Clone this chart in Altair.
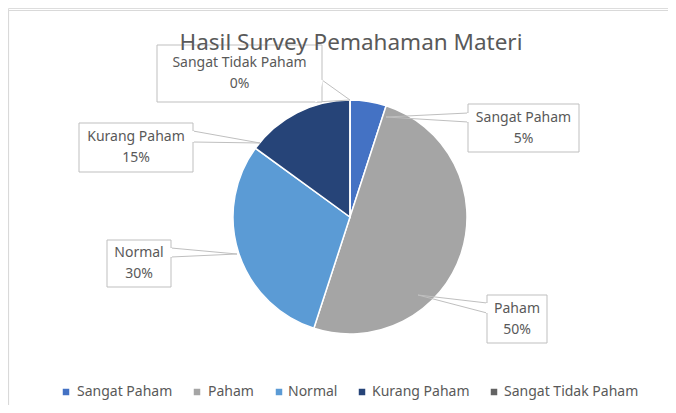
import altair as alt
import pandas as pd

# ---- data ----
categories = ["Sangat Paham", "Paham", "Normal", "Kurang Paham", "Sangat Tidak Paham"]
values = [5, 50, 30, 15, 0]
percent_labels = ["5%", "50%", "30%", "15%", "0%"]
title_text = "Hasil Survey Pemahaman Materi"

# ---- style ----
colors = ["#4472C4", "#A5A5A5", "#5B9BD5", "#264478", "#636363"]
text_color = "#595959"
box_color = "#BFBFBF"
FONT = "Noto Sans"

# ---- layout (pixels in chart space) ----
W, H = 660, 397
CX, CY, R = 342, 209, 117
box_x0 = [460, 479, 99, 71, 149]
box_x1 = [571, 539, 163, 185, 314]
box_y0 = [96, 287, 232, 115, 37]
box_y1 = [144, 335, 279, 164, 94]
# callout wedge: edge point A, tip, edge point B
wedge_ax = [460, 479, 163, 185, 314]
wedge_ay = [105, 295, 240, 123, 72]
wedge_tx = [378, 410, 229, 252, 342]
wedge_ty = [109, 287, 246, 135, 92]
wedge_bx = [460, 479, 163, 185, 308]
wedge_by = [114, 305, 249, 134, 94]
legend_sq_x = [58, 189, 271, 354, 486]
legend_tx_x = [69, 200, 280, 364, 496]
legend_y = 384
LINE_GAP = 10.5

xs = alt.Scale(domain=[0, W], range=[0, W])
ys = alt.Scale(domain=[0, H], range=[0, H])

pie_df = pd.DataFrame({"cat": categories, "value": values, "idx": list(range(len(categories)))})

pie = alt.Chart(pie_df).mark_arc(
    radius=R, x=CX, y=CY, stroke="white", strokeWidth=1.5
).encode(
    theta=alt.Theta("value:Q", stack=True),
    order=alt.Order("idx:Q"),
    color=alt.Color("cat:N", scale=alt.Scale(domain=categories, range=colors), legend=None),
)

box_df = pd.DataFrame({
    "x0": box_x0, "x1": box_x1, "y0": box_y0, "y1": box_y1,
    "name": categories, "pct": percent_labels,
    "xc": [(a + b) / 2 for a, b in zip(box_x0, box_x1)],
    "yc1": [(a + b) / 2 - LINE_GAP for a, b in zip(box_y0, box_y1)],
    "yc2": [(a + b) / 2 + LINE_GAP for a, b in zip(box_y0, box_y1)],
})

boxes = alt.Chart(box_df).mark_rect(fill="white", stroke=box_color, strokeWidth=1).encode(
    x=alt.X("x0:Q", scale=xs, axis=None), x2=alt.X2("x1:Q"),
    y=alt.Y("y0:Q", scale=ys, axis=None), y2=alt.Y2("y1:Q"),
)

rows = []
for i, c in enumerate(categories):
    rows.append({"cat": c, "k": 0, "x": wedge_ax[i], "y": wedge_ay[i]})
    rows.append({"cat": c, "k": 1, "x": wedge_tx[i], "y": wedge_ty[i]})
    rows.append({"cat": c, "k": 2, "x": wedge_bx[i], "y": wedge_by[i]})
wedge_df = pd.DataFrame(rows)

# cover the box edge where the callout wedge attaches
gap_df = pd.DataFrame({"x": wedge_ax, "y": wedge_ay, "x2": wedge_bx, "y2": wedge_by})
gaps = alt.Chart(gap_df).mark_rule(color="white", strokeWidth=2).encode(
    x=alt.X("x:Q", scale=xs, axis=None), y=alt.Y("y:Q", scale=ys, axis=None),
    x2="x2:Q", y2="y2:Q",
)

wedges = alt.Chart(wedge_df).mark_line(color=box_color, strokeWidth=1).encode(
    x=alt.X("x:Q", scale=xs, axis=None), y=alt.Y("y:Q", scale=ys, axis=None),
    detail="cat:N", order="k:Q",
)

labels1 = alt.Chart(box_df).mark_text(
    font=FONT, fontSize=14, color=text_color, baseline="middle"
).encode(
    x=alt.X("xc:Q", scale=xs, axis=None), y=alt.Y("yc1:Q", scale=ys, axis=None), text="name:N",
)
labels2 = alt.Chart(box_df).mark_text(
    font=FONT, fontSize=14, color=text_color, baseline="middle"
).encode(
    x=alt.X("xc:Q", scale=xs, axis=None), y=alt.Y("yc2:Q", scale=ys, axis=None), text="pct:N",
)

title = alt.Chart(pd.DataFrame({"t": [title_text]})).mark_text(
    font=FONT, fontSize=22.5, color=text_color, baseline="middle"
).encode(x=alt.value(343), y=alt.value(35), text="t:N")

leg_df = pd.DataFrame({"cat": categories, "sx": legend_sq_x, "tx": legend_tx_x, "y": [legend_y] * 5})
leg_sq = alt.Chart(leg_df).mark_square(size=42, opacity=1).encode(
    x=alt.X("sx:Q", scale=xs, axis=None), y=alt.Y("y:Q", scale=ys, axis=None),
    color=alt.Color("cat:N", scale=alt.Scale(domain=categories, range=colors), legend=None),
)
leg_tx = alt.Chart(leg_df).mark_text(
    font=FONT, fontSize=14, color=text_color, align="left", baseline="middle"
).encode(
    x=alt.X("tx:Q", scale=xs, axis=None), y=alt.Y("y:Q", scale=ys, axis=None), text="cat:N",
)

border_df = pd.DataFrame({"x": [0.5, 0.5], "y": [2.5, 2.5], "x2": [W, 0.5], "y2": [2.5, H]})
border = alt.Chart(border_df).mark_rule(color="#D9D9D9", strokeWidth=1.2).encode(
    x=alt.X("x:Q", scale=xs, axis=None), y=alt.Y("y:Q", scale=ys, axis=None),
    x2="x2:Q", y2="y2:Q",
)

chart = alt.layer(border, pie, wedges, boxes, gaps, labels1, labels2, title, leg_sq, leg_tx).properties(
    width=W, height=H, padding=0, autosize="none"
).configure_view(stroke=None).configure(background="white")

chart.save("out.html", embed_options={"renderer": "svg", "actions": False})
